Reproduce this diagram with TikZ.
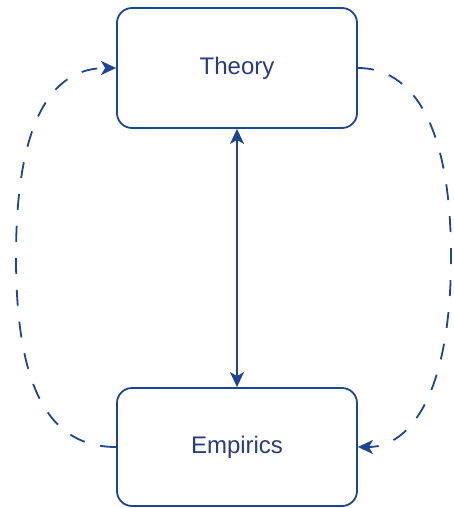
\documentclass[tikz,border=0pt]{standalone}
\usepackage{fontspec}
\setmainfont{Liberation Sans}
\usetikzlibrary{arrows.meta}
\definecolor{edge}{HTML}{1E4494}
\definecolor{label}{HTML}{2A3D7A}
\begin{document}
\begin{tikzpicture}[x=1pt,y=-1pt,
  box/.style={draw=edge, line width=1.8pt, rounded corners=15pt, fill=white,
    minimum width=240pt, minimum height=120pt, inner sep=0pt,
    text=label, font=\fontsize{24}{28}\selectfont},
  link/.style={draw=edge, line width=1.8pt},
  loop/.style={link, dash pattern=on 16pt off 16pt, -{Stealth[length=15pt,width=14pt,inset=4pt]}}]
  \useasboundingbox (0,0) rectangle (453,508);
  \node[box] (theory) at (237,68) {Theory};
  \node[box, minimum height=118pt] (empirics) at (237,447) {Empirics};
  % two-way link between the boxes
  \draw[link, {Stealth[length=15pt,width=14pt,inset=4pt]}-{Stealth[length=15pt,width=14pt,inset=4pt]}]
    (theory.south) -- (empirics.north);
  % feedback loops on both sides
  \coordinate (lmid) at (16,257);
  \coordinate (rmid) at (451,257);
  \draw[loop] (empirics.west) .. controls (50,447) and (16,390) .. (lmid)
    .. controls (16,124) and (50,68) .. (theory.west);
  \draw[loop] (theory.east) .. controls (410,68) and (451,120) .. (rmid)
    .. controls (451,394) and (410,447) .. (empirics.east);
\end{tikzpicture}
\end{document}
